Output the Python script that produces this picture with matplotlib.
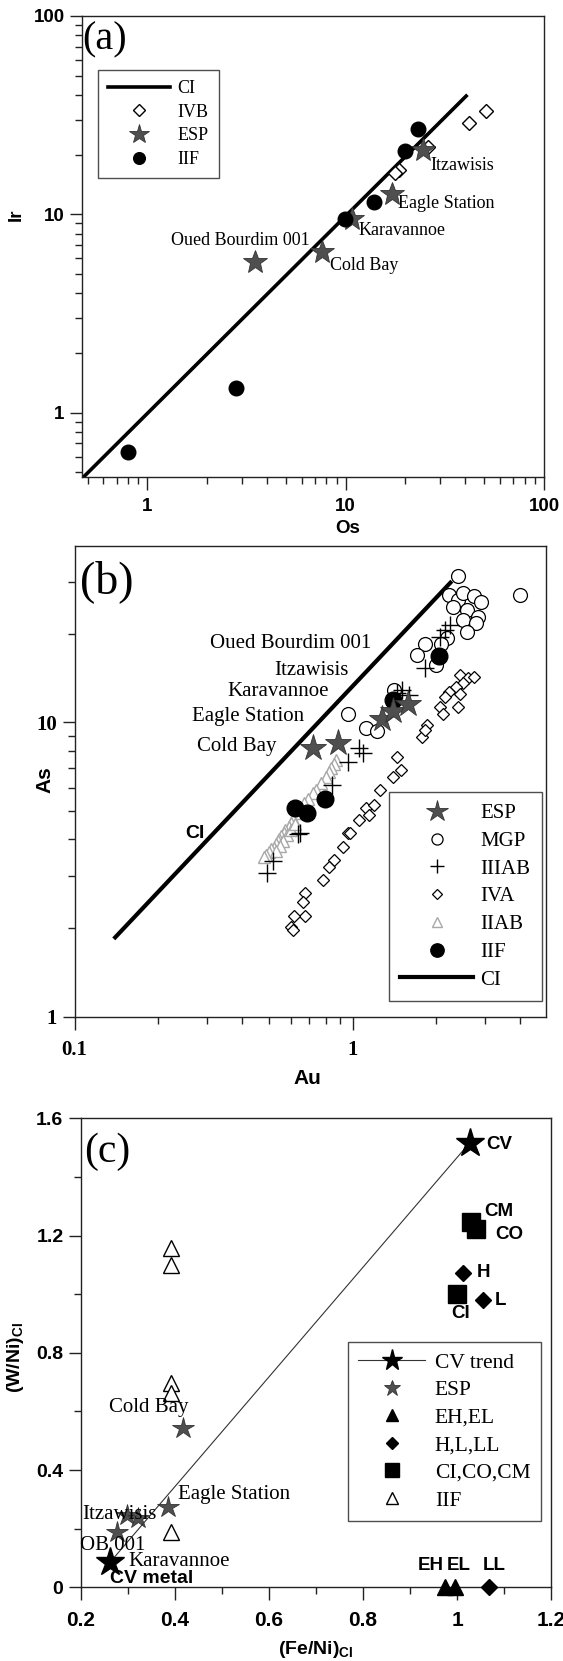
import matplotlib
matplotlib.use('Agg')
import matplotlib.pyplot as plt
from matplotlib.ticker import LogLocator, NullFormatter, MultipleLocator

plt.rcParams['mathtext.fontset'] = 'custom'
plt.rcParams['mathtext.rm'] = 'Liberation Sans'
plt.rcParams['mathtext.bf'] = 'Liberation Sans:bold'

SERIF = 'Liberation Serif'
SANS = 'Liberation Sans'
ESPC = '#4f4f4f'

# ---------------- Panel (a): Ir vs Os ----------------
ci_a_os = [0.478, 40.5]
ci_a_ir = [0.476, 39.5]
ivb_os = [51.2, 42.0, 26.1, 18.6, 17.7]
ivb_ir = [33.2, 28.9, 21.9, 16.8, 16.2]
esp_a_names = ['Itzawisis', 'Eagle Station', 'Karavannoe', 'Cold Bay', 'Oued Bourdim 001']
esp_a_os = [24.5, 17.2, 10.7, 7.6, 3.49]
esp_a_ir = [21.1, 12.6, 9.5, 6.43, 5.72]
esp_a_lab_os = [26.6, 18.4, 11.66, 8.29, 1.31]
esp_a_lab_ir = [17.7, 11.35, 8.32, 5.55, 7.41]
iif_a_os = [23.2, 19.8, 13.9, 9.9, 2.8, 0.80]
iif_a_ir = [26.9, 20.9, 11.5, 9.5, 1.33, 0.634]

# ---------------- Panel (b): As vs Au ----------------
ci_b_au = [0.14, 2.25]
ci_b_as = [1.86, 29.8]
esp_b_au = [0.723, 0.890, 1.28, 1.40, 1.59]
esp_b_as = [8.16, 8.52, 10.3, 10.9, 11.5]
esp_b_names = ['Oued Bourdim 001', 'Itzawisis', 'Karavannoe', 'Eagle Station', 'Cold Bay']
esp_b_lab_au = [0.307, 0.525, 0.356, 0.265, 0.275]
esp_b_lab_as = [18.55, 15.05, 12.7, 10.45, 8.26]
mgp_au = [2.39, 2.22, 2.39, 2.50, 2.73, 2.90, 2.29, 2.58, 2.82, 2.50, 2.78, 2.58,
          2.19, 1.83, 1.70, 2.00, 1.41, 0.965, 1.12, 1.22, 4.00, 2.09]
mgp_as = [31.4, 27.1, 26.0, 27.4, 26.8, 25.7, 24.7, 24.0, 22.8, 22.3, 21.7, 20.3,
          19.3, 18.5, 16.9, 15.6, 12.9, 10.7, 9.54, 9.36, 27.1, 18.5]
iiiab_au = [2.25, 2.15, 2.06, 1.83, 1.51, 1.60, 1.055, 1.09, 0.965, 0.844, 0.646,
            0.637, 0.516, 0.494, 1.45]
iiiab_as = [21.4, 20.6, 19.5, 15.3, 12.9, 12.4, 8.16, 7.85, 7.35, 6.12, 4.20,
            4.17, 3.39, 3.07, 12.6]
iva_au = [2.43, 2.61, 2.73, 2.50, 2.36, 2.22, 2.43, 2.15, 2.06, 2.12, 2.39, 1.86,
          1.78, 1.83, 1.44, 1.40, 1.49, 1.26, 1.12, 1.19, 1.15, 1.055, 0.965,
          0.98, 0.923, 0.857, 0.82, 0.784, 0.675, 0.666, 0.675, 0.618, 0.60, 0.609]
iva_as = [14.5, 14.1, 14.3, 13.6, 13.2, 12.7, 12.5, 12.2, 11.3, 10.7, 11.3, 9.79,
          8.93, 9.42, 7.64, 6.53, 6.88, 5.89, 5.10, 5.24, 4.84, 4.66, 4.20,
          4.20, 3.78, 3.41, 3.23, 2.91, 2.63, 2.46, 2.20, 2.19, 2.02, 1.97]
iiab_au = [0.87, 0.86, 0.84, 0.82, 0.80, 0.77, 0.74, 0.72, 0.69, 0.67, 0.65, 0.63,
           0.61, 0.60, 0.59, 0.57, 0.565, 0.555, 0.545, 0.54, 0.53, 0.52, 0.51,
           0.50, 0.49, 0.48, 0.58, 0.56, 0.55, 0.53, 0.60, 0.62]
iiab_as = [7.45, 7.2, 7.0, 6.8, 6.5, 6.2, 5.9, 5.75, 5.5, 5.3, 5.1, 4.9,
           4.7, 4.55, 4.4, 4.3, 4.2, 4.1, 4.0, 3.95, 3.85, 3.75, 3.7,
           3.62, 3.55, 3.5, 4.15, 3.95, 3.8, 3.65, 4.3, 4.5]
iif_b_au = [2.04, 1.40, 0.796, 0.621, 0.685]
iif_b_as = [16.8, 11.9, 5.47, 5.10, 4.91]

# ---------------- Panel (c): (W/Ni)CI vs (Fe/Ni)CI ----------------
cv_fe = [0.263, 1.027]
cv_w = [0.087, 1.517]
esp_c_fe = [0.4175, 0.385, 0.299, 0.322, 0.276]
esp_c_w = [0.542, 0.275, 0.247, 0.235, 0.190]
ehel_fe = [0.975, 0.996]
ehel_w = [0.0, 0.0]
hlll_fe = [1.013, 1.055, 1.068]
hlll_w = [1.073, 0.980, 0.0]
cicocm_fe = [1.000, 1.041, 1.030]
cicocm_w = [1.002, 1.221, 1.245]
iif_c_fe = [0.391, 0.391, 0.391, 0.391, 0.391]
iif_c_w = [1.157, 1.100, 0.696, 0.662, 0.190]
c_bold_labels = ['CV', 'CM', 'CO', 'H', 'L', 'CI', 'EH', 'EL', 'LL', 'CV metal']
c_bold_x = [1.062, 1.057, 1.080, 1.042, 1.080, 1.008, 0.944, 1.003, 1.079, 0.263]
c_bold_y = [1.51, 1.281, 1.205, 1.075, 0.978, 0.935, 0.073, 0.073, 0.073, 0.031]
c_bold_ha = ['left', 'left', 'left', 'left', 'left', 'center', 'center', 'center', 'center', 'left']
c_serif_labels = ['Karavannoe', 'OB 001', 'Itzawisis', 'Eagle Station', 'Cold Bay']
c_serif_x = [0.3015, 0.199, 0.204, 0.406, 0.261]
c_serif_y = [0.087, 0.144, 0.247, 0.315, 0.614]

W, H = 563, 1661
fig = plt.figure(figsize=(W / 100, H / 100), dpi=100)


def px_axes(l, r, t, b):
    return fig.add_axes([l / W, 1 - b / H, (r - l) / W, (b - t) / H])


def style_spines(ax):
    for s in ax.spines.values():
        s.set_linewidth(1.0)
        s.set_color('#222222')
    ax.tick_params(which='both', direction='out', top=False, right=False,
                   color='#222222', width=1.0)
    ax.tick_params(which='major', length=9)
    ax.tick_params(which='minor', length=5)


def log_minor(ax):
    ax.xaxis.set_minor_locator(LogLocator(base=10, subs=range(2, 10)))
    ax.yaxis.set_minor_locator(LogLocator(base=10, subs=range(2, 10)))
    ax.xaxis.set_minor_formatter(NullFormatter())
    ax.yaxis.set_minor_formatter(NullFormatter())


# ===== (a) =====
axa = px_axes(82, 544, 16, 476.7)
axa.set_xscale('log')
axa.set_yscale('log')
axa.set_xlim(0.468, 100)
axa.set_ylim(0.476, 100)
axa.plot(ci_a_os, ci_a_ir, color='black', lw=2.6, label='CI', zorder=2)
axa.plot(ivb_os, ivb_ir, ls='none', marker='D', ms=7.5, mfc='white', mec='black',
         mew=1.0, label='IVB', zorder=3)
axa.plot(esp_a_os, esp_a_ir, ls='none', marker='*', ms=18, mfc=ESPC, mec='#333333',
         mew=0.6, label='ESP', zorder=4)
axa.plot(iif_a_os, iif_a_ir, ls='none', marker='o', ms=10.5, mfc='black', mec='black',
         label='IIF', zorder=5)
for n, x, y in zip(esp_a_names, esp_a_lab_os, esp_a_lab_ir):
    axa.text(x, y, n, family=SERIF, fontsize=13, ha='left', va='center', zorder=6)
style_spines(axa)
axa.set_xticks([1, 10, 100], ['1', '10', '100'], family=SANS, fontweight='bold', fontsize=13.5)
axa.set_yticks([1, 10, 100], ['1', '10', '100'], family=SANS, fontweight='bold', fontsize=13.5)
log_minor(axa)
axa.tick_params(axis='x', which='major', pad=6)
axa.set_xlabel('Os', family=SANS, fontweight='bold', fontsize=13.5)
axa.set_ylabel('Ir', family=SANS, fontweight='bold', fontsize=13.5)
axa.xaxis.set_label_coords(0.574, -0.093)
axa.yaxis.set_label_coords(-0.124, 0.568)
axa.text(0.0, 0.948, '(a)', transform=axa.transAxes, family=SERIF, fontsize=29,
         ha='left', va='center')
lega = axa.legend(loc='upper left', bbox_to_anchor=((91 - 76) / 427, (476.7 - 70) / 460.7),
                  prop={'family': SERIF, 'size': 13}, frameon=True, fancybox=False,
                  edgecolor='#222222', borderpad=0.55, labelspacing=0.37,
                  handlelength=3.4, handletextpad=0.45, borderaxespad=0, numpoints=1)
lega.get_frame().set_linewidth(1.0)
for h in lega.legend_handles[1:]:
    h.set_markersize(h.get_markersize() * 0.8)

# ===== (b) =====
axb = px_axes(74.6, 545.8, 546, 1016.7)
axb.set_xscale('log')
axb.set_yscale('log')
axb.set_xlim(0.1, 4.96)
axb.set_ylim(1, 39.7)
axb.plot(esp_b_au, esp_b_as, ls='none', marker='*', ms=20, mfc=ESPC, mec='#333333',
         mew=0.6, label='ESP', zorder=7)
axb.plot(mgp_au, mgp_as, ls='none', marker='o', ms=10, mfc='white', mec='black',
         mew=0.9, label='MGP', zorder=4)
axb.plot(iiiab_au, iiiab_as, ls='none', marker='+', ms=13, mec='black', mew=1.0,
         label='IIIAB', zorder=5)
axb.plot(iva_au, iva_as, ls='none', marker='D', ms=6, mfc='white', mec='black',
         mew=0.9, label='IVA', zorder=3)
axb.plot(iiab_au, iiab_as, ls='none', marker='^', ms=9, mfc='white', mec='#a8a8a8',
         mew=1.0, label='IIAB', zorder=3)
axb.plot(iif_b_au, iif_b_as, ls='none', marker='o', ms=12, mfc='black', mec='black',
         label='IIF', zorder=6)
axb.plot(ci_b_au, ci_b_as, color='black', lw=3, label='CI', zorder=2)
for n, x, y in zip(esp_b_names, esp_b_lab_au, esp_b_lab_as):
    axb.text(x, y, n, family=SERIF, fontsize=15, ha='left', va='center', zorder=8)
axb.text(0.294, 4.2, 'CI', family=SANS, fontweight='bold', fontsize=14, ha='right',
         va='center')
style_spines(axb)
axb.set_xticks([0.1, 1], ['0.1', '1'], family=SERIF, fontweight='bold', fontsize=15)
axb.set_yticks([1, 10], ['1', '10'], family=SERIF, fontweight='bold', fontsize=15)
log_minor(axb)
axb.tick_params(axis='x', which='major', pad=8)
axb.set_xlabel('Au', family=SANS, fontweight='bold', fontsize=15)
axb.set_ylabel('As', family=SANS, fontweight='bold', fontsize=15)
axb.xaxis.set_label_coords(0.495, -0.111)
axb.yaxis.set_label_coords(-0.042, 0.503)
axb.text(0.012, 0.924, '(b)', transform=axb.transAxes, family=SERIF, fontsize=33,
         ha='left', va='center')
wb = 506.7 - 69.3
hb = 1016.7 - 546
legb = axb.legend(loc='upper left', bbox_to_anchor=((361 - 69.3) / wb, (1016.7 - 792.3) / hb),
                  prop={'family': SERIF, 'size': 15}, frameon=True, fancybox=False,
                  edgecolor='#222222', borderpad=0.55, labelspacing=0.39,
                  handlelength=3.5, handletextpad=0.35, borderaxespad=0, numpoints=1)
legb.get_frame().set_linewidth(1.0)
for h in legb.legend_handles[:6]:
    h.set_markersize(h.get_markersize() * 0.8)

# ===== (c) =====
axc = px_axes(80.8, 551.2, 1118.3, 1587.3)
axc.set_xlim(0.2, 1.2)
axc.set_ylim(0, 1.6)
axc.plot(cv_fe, cv_w, color='#333333', lw=0.8, marker='*', ms=21, mfc='black',
         mec='black', label='CV trend', zorder=5, clip_on=False)
axc.plot(esp_c_fe, esp_c_w, ls='none', marker='*', ms=16, mfc=ESPC, mec='#333333',
         mew=0.6, label='ESP', zorder=4)
axc.plot(ehel_fe, ehel_w, ls='none', marker='^', ms=11, mfc='black', mec='black',
         label='EH,EL', zorder=4, clip_on=False)
axc.plot(hlll_fe, hlll_w, ls='none', marker='D', ms=8.5, mfc='black', mec='black',
         label='H,L,LL', zorder=4, clip_on=False)
axc.plot(cicocm_fe, cicocm_w, ls='none', marker='s', ms=12.5, mfc='black', mec='black',
         label='CI,CO,CM', zorder=4)
axc.plot(iif_c_fe, iif_c_w, ls='none', marker='^', ms=11.5, mfc='white', mec='black',
         mew=1.0, label='IIF', zorder=4)
for n, x, y, ha in zip(c_bold_labels, c_bold_x, c_bold_y, c_bold_ha):
    axc.text(x, y, n, family=SANS, fontweight='bold', fontsize=13.5 if n != 'CV metal' else 14,
             ha=ha, va='center', zorder=6)
for n, x, y in zip(c_serif_labels, c_serif_x, c_serif_y):
    axc.text(x, y, n, family=SERIF, fontsize=15, ha='left', va='center', zorder=6)
style_spines(axc)
axc.set_xticks([0.2, 0.4, 0.6, 0.8, 1.0, 1.2], ['0.2', '0.4', '0.6', '0.8', '1', '1.2'],
               family=SANS, fontweight='bold', fontsize=15)
axc.set_yticks([0, 0.4, 0.8, 1.2, 1.6], ['0', '0.4', '0.8', '1.2', '1.6'],
               family=SANS, fontweight='bold', fontsize=14)
axc.xaxis.set_minor_locator(MultipleLocator(0.1))
axc.yaxis.set_minor_locator(MultipleLocator(0.2))
axc.tick_params(axis='x', which='major', pad=8)
axc.set_xlabel(r'(Fe/Ni)$_{\mathbf{CI}}$', family=SANS, fontweight='bold', fontsize=14)
axc.set_ylabel(r'(W/Ni)$_{\mathbf{CI}}$', family=SANS, fontweight='bold', fontsize=14)
axc.xaxis.set_label_coords(0.5, -0.110)
axc.yaxis.set_label_coords(-0.117, 0.49)
axc.text(0.007, 0.929, '(c)', transform=axc.transAxes, family=SERIF, fontsize=30,
         ha='left', va='center')
wc = 511.7 - 75
hc = 1587.3 - 1118.3
legc = axc.legend(loc='upper left', bbox_to_anchor=((322.7 - 75) / wc, (1587.3 - 1341.7) / hc),
                  prop={'family': SERIF, 'size': 15.5}, frameon=True, fancybox=False,
                  edgecolor='#222222', borderpad=0.5, labelspacing=0.35,
                  handlelength=3.1, handletextpad=0.45, borderaxespad=0, numpoints=1)
legc.get_frame().set_linewidth(1.0)
for h in legc.legend_handles:
    h.set_markersize(h.get_markersize() * 0.75)

fig.savefig('out.png', dpi=100)
